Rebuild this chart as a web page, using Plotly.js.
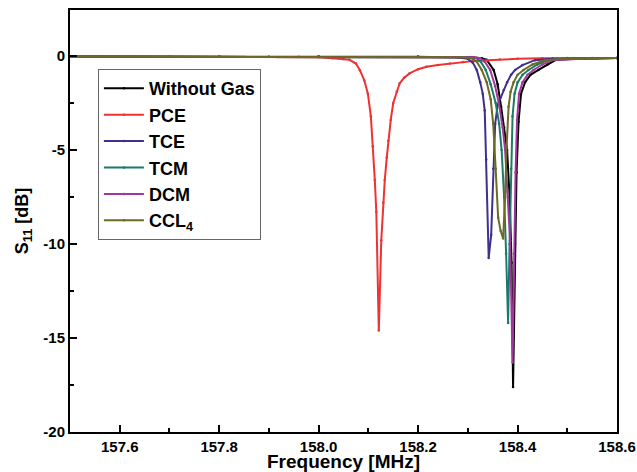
<!DOCTYPE html>
<html>
<head>
<meta charset="utf-8">
<script src="https://cdn.plot.ly/plotly-3.0.1.min.js"></script>
<style>html,body{margin:0;padding:0;background:#fff;}#chart{width:637px;height:472px;}</style>
</head>
<body>
<div id="chart"></div>
<script>
// Series names (legend)
const seriesNames = ["Without Gas", "PCE", "TCE", "TCM", "DCM", "CCL<sub>4</sub>"];

// Without Gas
const freqWithoutGas = [157.50, 157.80, 158.00, 158.20, 158.31, 158.328, 158.338, 158.352, 158.360, 158.367, 158.373, 158.379, 158.384, 158.388, 158.391, 158.395, 158.398, 158.402, 158.407, 158.415, 158.426, 158.442, 158.46, 158.477, 158.52, 158.56, 158.60];
const s11WithoutGas  = [-0.03, -0.03, -0.03, -0.04, -0.06, -0.12, -0.2, -0.74, -1.5, -2.7, -3.8, -5.0, -7.5, -11.0, -17.6, -10.0, -6.2, -3.5, -2.0, -1.4, -1.0, -0.74, -0.45, -0.2, -0.15, -0.12, -0.1];

// PCE
const freqPCE = [157.50, 157.70, 157.90, 157.96, 158.00, 158.028, 158.05, 158.062, 158.075, 158.083, 158.092, 158.099, 158.105, 158.109, 158.113, 158.116, 158.121, 158.126, 158.130, 158.133, 158.137, 158.140, 158.145, 158.150, 158.157, 158.163, 158.172, 158.183, 158.20, 158.217, 158.24, 158.264, 158.29, 158.31, 158.34, 158.364, 158.40, 158.45, 158.50, 158.55, 158.60];
const s11PCE  = [-0.03, -0.03, -0.03, -0.04, -0.06, -0.12, -0.16, -0.2, -0.4, -0.75, -1.3, -2.0, -3.2, -4.8, -6.6, -8.3, -14.6, -9.8, -7.8, -6.6, -5.4, -4.5, -3.4, -2.5, -1.9, -1.45, -1.15, -0.92, -0.7, -0.57, -0.47, -0.39, -0.32, -0.27, -0.22, -0.18, -0.15, -0.12, -0.11, -0.1, -0.1];

// TCE
const freqTCE = [157.50, 157.80, 158.00, 158.20, 158.28, 158.300, 158.310, 158.318, 158.325, 158.330, 158.334, 158.337, 158.342, 158.347, 158.351, 158.355, 158.360, 158.366, 158.372, 158.379, 158.387, 158.395, 158.41, 158.435, 158.47, 158.52, 158.60];
const s11TCE  = [-0.03, -0.03, -0.03, -0.04, -0.08, -0.15, -0.35, -0.74, -1.4, -2.0, -2.9, -5.5, -10.74, -9.5, -6.0, -3.6, -2.6, -2.2, -1.8, -1.4, -1.0, -0.74, -0.48, -0.22, -0.15, -0.12, -0.1];

// TCM
const freqTCM = [157.50, 157.80, 158.00, 158.20, 158.30, 158.318, 158.326, 158.336, 158.346, 158.356, 158.363, 158.368, 158.373, 158.377, 158.381, 158.384, 158.387, 158.390, 158.394, 158.40, 158.41, 158.422, 158.44, 158.461, 158.50, 158.55, 158.60];
const s11TCM  = [-0.03, -0.03, -0.03, -0.04, -0.06, -0.12, -0.3, -0.74, -1.5, -2.5, -3.6, -5.0, -7.5, -10.5, -14.2, -10.0, -6.0, -3.2, -2.0, -1.4, -1.0, -0.74, -0.45, -0.22, -0.15, -0.12, -0.1];

// DCM
const freqDCM = [157.50, 157.80, 158.00, 158.20, 158.31, 158.325, 158.334, 158.345, 158.355, 158.363, 158.370, 158.375, 158.380, 158.385, 158.390, 158.393, 158.396, 158.399, 158.403, 158.41, 158.42, 158.432, 158.45, 158.469, 158.51, 158.55, 158.60];
const s11DCM  = [-0.03, -0.03, -0.03, -0.04, -0.06, -0.12, -0.3, -0.74, -1.6, -2.6, -3.8, -5.0, -7.2, -9.8, -16.3, -10.5, -6.2, -3.4, -2.0, -1.4, -1.0, -0.74, -0.45, -0.22, -0.15, -0.12, -0.1];

// CCL4
const freqCCL4 = [157.50, 157.80, 158.00, 158.20, 158.29, 158.308, 158.318, 158.328, 158.338, 158.346, 158.351, 158.356, 158.361, 158.366, 158.371, 158.375, 158.378, 158.382, 158.386, 158.392, 158.40, 158.412, 158.43, 158.455, 158.49, 158.54, 158.60];
const s11CCL4  = [-0.03, -0.03, -0.03, -0.04, -0.06, -0.12, -0.3, -0.74, -1.4, -2.3, -3.6, -6.0, -8.6, -9.3, -9.7, -7.5, -4.8, -2.7, -1.9, -1.4, -1.0, -0.74, -0.45, -0.22, -0.15, -0.12, -0.1];

// Axis ticks
const xTickVals = [157.6, 157.8, 158.0, 158.2, 158.4, 158.6];
const xTickText = ["157.6", "157.8", "158.0", "158.2", "158.4", "158.6"];
const yTickVals = [0, -5, -10, -15, -20];
const yTickText = ["0", "-5", "-10", "-15", "-20"];

const colors = ["#000000", "#ee3232", "#3f2f8e", "#1d7a6a", "#a3369b", "#6b6b24"];
const xs = [freqWithoutGas, freqPCE, freqTCE, freqTCM, freqDCM, freqCCL4];
const ys = [s11WithoutGas, s11PCE, s11TCE, s11TCM, s11DCM, s11CCL4];

const FONT = 'Arial, "Liberation Sans", sans-serif';

const traces = seriesNames.map((name, i) => ({
  x: xs[i], y: ys[i], name: name, type: 'scatter', mode: 'lines+markers',
  line: {color: colors[i], width: 2},
  marker: {color: colors[i], size: 2.5}
}));

const layout = {
  width: 637, height: 472,
  margin: {l: 70, r: 20, t: 10, b: 40},
  paper_bgcolor: '#ffffff', plot_bgcolor: '#ffffff',
  showlegend: true,
  legend: {
    x: 0.051, y: 0.86, xanchor: 'left', yanchor: 'top',
    bgcolor: '#ffffff', bordercolor: '#666666', borderwidth: 1,
    font: {family: FONT, size: 18, weight: 'bold', color: '#000'},
    itemwidth: 40
  },
  xaxis: {
    range: [157.5, 158.6], tickmode: 'array', tickvals: xTickVals, ticktext: xTickText,
    ticks: 'inside', ticklen: 7, tickwidth: 2, tickcolor: '#000',
    showline: true, linewidth: 2, linecolor: '#000', mirror: true,
    showgrid: false, zeroline: false,
    tickfont: {family: FONT, size: 15, weight: 'bold', color: '#000'},
    minor: {dtick: 0.1, tick0: 157.5, ticks: 'inside', ticklen: 4, tickwidth: 2, tickcolor: '#000', showgrid: false},
    title: {text: 'Frequency [MHz]', standoff: 0, font: {family: FONT, size: 19, weight: 'bold', color: '#000'}}
  },
  yaxis: {
    range: [-20, 2.45], tickmode: 'array', tickvals: yTickVals, ticktext: yTickText,
    ticks: 'inside', ticklen: 7, tickwidth: 2, tickcolor: '#000',
    showline: true, linewidth: 2, linecolor: '#000', mirror: true,
    showgrid: false, zeroline: false,
    tickfont: {family: FONT, size: 15, weight: 'bold', color: '#000'},
    minor: {dtick: 2.5, tick0: 0, ticks: 'inside', ticklen: 4, tickwidth: 2, tickcolor: '#000', showgrid: false},
    title: {text: 'S<sub>11</sub> [dB]', standoff: 10, font: {family: FONT, size: 18, weight: 'bold', color: '#000'}}
  }
};

Plotly.newPlot('chart', traces, layout, {displayModeBar: false, staticPlot: true});
</script>
</body>
</html>
